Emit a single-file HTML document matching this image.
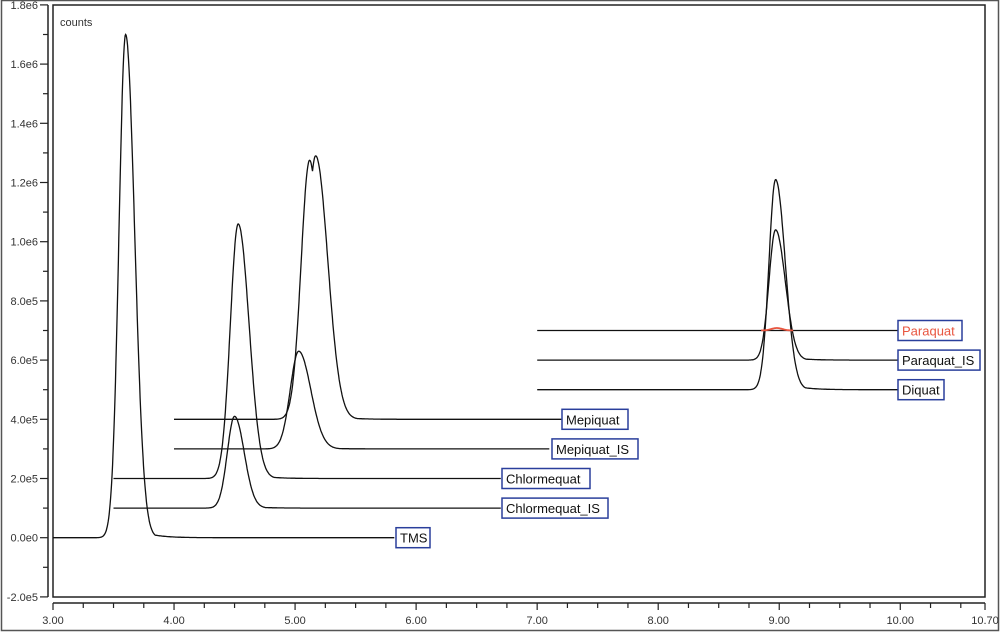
<!DOCTYPE html>
<html><head><meta charset="utf-8"><style>
body{margin:0;background:#fff;}
svg{display:block;font-family:"Liberation Sans",sans-serif;}
</style></head><body>
<svg id="s" width="1003" height="632" viewBox="0 0 1003 632" xmlns="http://www.w3.org/2000/svg">
<rect x="1.5" y="0.5" width="997" height="630" fill="#fff" stroke="#555" stroke-width="1.5"/>
<rect x="53" y="5" width="932" height="592" fill="#fff" stroke="#222" stroke-width="1.5"/>
<line x1="48" y1="5" x2="48" y2="597" stroke="#222" stroke-width="1.5"/>
<line x1="53" y1="603" x2="985" y2="603" stroke="#222" stroke-width="1.5"/>
<text x="60" y="26" font-size="11" fill="#333">counts</text>
<g id="ax"></g>
<g id="tr" fill="none" stroke="#111" stroke-width="1.3"></g>
<g id="lb" font-size="13"></g>
</svg>
<script>
var NS="http://www.w3.org/2000/svg";
function X(t){return 53+(t-3)*121.04;}
function Y(v){return 537.7-v/2e5*59.2;}
function el(n,a,p,txt){var e=document.createElementNS(NS,n);for(var k in a)e.setAttribute(k,a[k]);if(txt)e.textContent=txt;p.appendChild(e);return e;}
var ax=document.getElementById('ax');
var yl=["-2.0e5","0.0e0","2.0e5","4.0e5","6.0e5","8.0e5","1.0e6","1.2e6","1.4e6","1.6e6","1.8e6"];
for(var i=0;i<=20;i++){var v=-2e5+i*1e5,y=Y(v);var big=i%2==0;
 el('line',{x1:big?40:43,y1:y,x2:48,y2:y,stroke:'#222','stroke-width':1.2},ax);
 if(big)el('text',{x:38,y:y+4,'font-size':11,'text-anchor':'end',fill:'#333'},ax,yl[i/2]);}
for(var t=3;t<=10.71;t+=0.25){var x=X(t);var big=Math.abs(t-Math.round(t))<0.01;
 el('line',{x1:x,y1:603,x2:x,y2:big?610:608,stroke:'#222','stroke-width':1.2},ax);
 if(big)el('text',{x:x,y:624,'font-size':11,'text-anchor':'middle',fill:'#333'},ax,t.toFixed(2));}
el('line',{x1:X(10.7),y1:603,x2:X(10.7),y2:610,stroke:'#222','stroke-width':1.2},ax);
el('text',{x:X(10.7),y:624,'font-size':11,'text-anchor':'middle',fill:'#333'},ax,"10.70");
function pk(t,c,h,sl,sr,tail){var d=t-c;if(d<0)return h*Math.exp(-d*d/(2*sl*sl));
 var g=Math.exp(-d*d/(2*sr*sr));var e=tail*Math.exp(-d/0.12)*(1-Math.exp(-d/0.05));return h*Math.max(g,e);}
var tr=[
 {t0:3,t1:5.82,b:0,pk:[[3.6,1.7e6,0.055,0.075,0.04]],lab:"TMS",lx:396,lw:34},
 {t0:3.5,t1:6.7,b:1e5,pk:[[4.5,3.1e5,0.06,0.08,0.05]],lab:"Chlormequat_IS",lx:502,lw:106},
 {t0:3.5,t1:6.7,b:2e5,pk:[[4.53,8.6e5,0.065,0.09,0.05]],lab:"Chlormequat",lx:502,lw:88},
 {t0:4.0,t1:7.1,b:3e5,pk:[[5.03,3.3e5,0.07,0.1,0.05]],lab:"Mepiquat_IS",lx:552,lw:86},
 {t0:4.0,t1:7.2,b:4e5,pk:[[5.12,8.75e5,0.07,0.08,0.03],[5.17,8.9e5,0.075,0.1,0.05]],lab:"Mepiquat",lx:562,lw:66},
 {t0:7.0,t1:10.0,b:5e5,pk:[[8.97,7.1e5,0.055,0.08,0.07]],lab:"Diquat",lx:898,lw:46},
 {t0:7.0,t1:10.0,b:6e5,pk:[[8.97,4.4e5,0.055,0.08,0.06]],lab:"Paraquat_IS",lx:898,lw:82},
 {t0:7.0,t1:10.0,b:7e5,pk:[],lab:"Paraquat",lx:898,lw:64,red:1}
];
var g=document.getElementById('tr'),lb=document.getElementById('lb');
tr.forEach(function(s){var pts=[];
 for(var t=s.t0;t<=s.t1+1e-9;t+=0.004){var v=s.b;var m=0;s.pk.forEach(function(p){m=Math.max(m,pk(t,p[0],p[1],p[2],p[3],p[4]))});v+=m;pts.push(X(t).toFixed(1)+","+Y(v).toFixed(1));}
 el('polyline',{points:pts.join(' ')},g);
 var yb=Y(s.b);
 el('rect',{x:s.lx,y:yb-10,width:s.lw,height:20,fill:'#fff',stroke:'#2a3f9c','stroke-width':1.5},lb);
 el('text',{x:s.lx+4,y:yb+5,fill:s.red?'#e8553f':'#111'},lb,s.lab);
});
var rp=[];for(var t=8.85;t<=9.12;t+=0.005){rp.push(X(t).toFixed(1)+","+(Y(7e5)-2.5*Math.exp(-Math.pow(t-8.98,2)/0.004)).toFixed(1));}
el('polyline',{points:rp.join(' '),stroke:'#e8553f','stroke-width':1.8},g);
</script>
</body></html>
